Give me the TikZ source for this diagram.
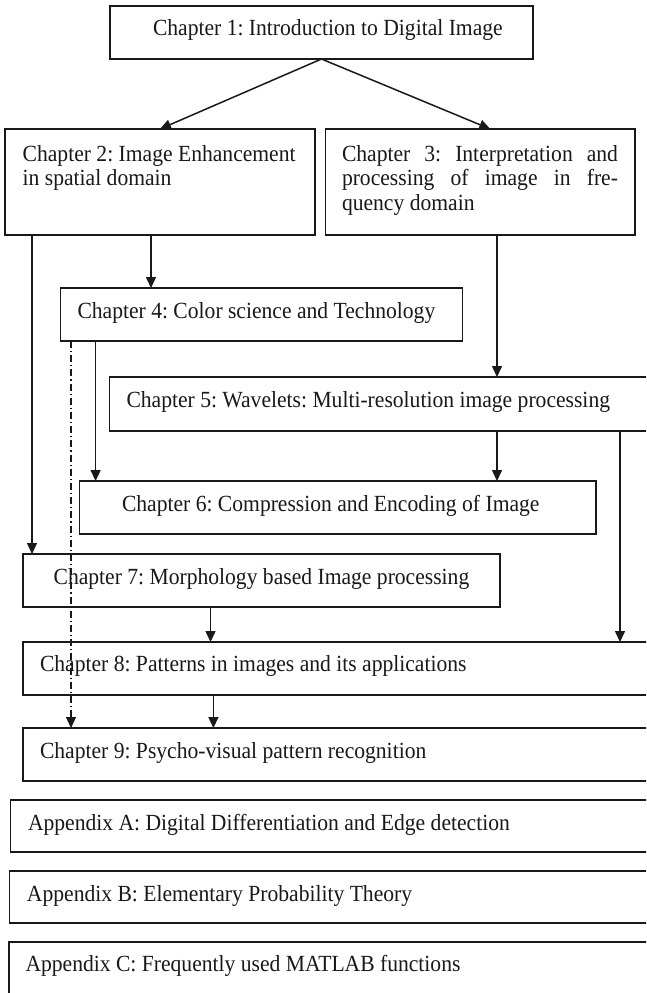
\documentclass[tikz,border=0pt]{standalone}
\usepackage{fontspec}
\usepackage{graphicx}
\setmainfont{Liberation Serif}
\usetikzlibrary{arrows.meta,calc}
\newcommand{\vstr}[1]{\scalebox{1}[1.07]{#1}}
\begin{document}
\frenchspacing
\begin{tikzpicture}[x=1pt,y=-1pt,
  boxsty/.style={draw=black!90, line width=1.1pt, inner sep=0pt, outer sep=0pt, anchor=north west, rectangle},
  txt/.style={inner sep=0pt, outer sep=0pt, anchor=base west, text=black!90, font=\fontsize{21.6}{24.5}\selectfont},
  arr/.style={draw=black!90, line width=1.5pt, -{Triangle[length=11pt,width=10pt]}},
  dd/.style={arr, line width=1.1pt, dash pattern=on 7pt off 3pt on 1.2pt off 3pt}]
\useasboundingbox (0,0) rectangle (646,993);
\clip (0,0) rectangle (646,993);
\fill[white] (0,0) rectangle (646,993);
% boxes
\node[boxsty, minimum width=423pt, minimum height=53pt] (c1) at (110,6) {};
\node[boxsty, minimum width=310pt, minimum height=106pt] (c2) at (5,129) {};
\node[boxsty, minimum width=309.5pt, minimum height=106pt] (c3) at (325.5,129) {};
\node[boxsty, minimum width=402pt, minimum height=53pt] (c4) at (60.6,288) {};
\node[boxsty, minimum width=560pt, minimum height=54pt] (c5) at (109.6,377) {};
\node[boxsty, minimum width=516.5pt, minimum height=53pt] (c6) at (79.5,481) {};
\node[boxsty, minimum width=477pt, minimum height=53pt] (c7) at (23,554) {};
\node[boxsty, minimum width=650pt, minimum height=53pt] (c8) at (23,642) {};
\node[boxsty, minimum width=650pt, minimum height=53pt] (c9) at (23,728) {};
\node[boxsty, minimum width=660pt, minimum height=52pt] (ca) at (10.3,800) {};
\node[boxsty, minimum width=660pt, minimum height=52pt] (cb) at (9.5,871) {};
\node[boxsty, minimum width=660pt, minimum height=53pt] (cc) at (9,942) {};
% texts
\node[txt] (t1) at (153,35.5) {\vstr{Chapter 1: Introduction to Digital Image}};
\node[txt] (t2a) at (22.7,161) {\vstr{Chapter 2: Image Enhancement}};
\node[txt] (t2b) at (22.7,185.5) {\vstr{in spatial domain}};
\node[txt] (t3a) at (342,161) {\vstr{\makebox[276pt][s]{Chapter 3: Interpretation and}}};
\node[txt] (t3b) at (342,185.5) {\vstr{\makebox[276pt][s]{processing of image in fre-}}};
\node[txt] (t3c) at (342,210) {\vstr{quency domain}};
\node[txt] (t4) at (77.5,318.5) {\vstr{Chapter 4: Color science and Technology}};
\node[txt] (t5) at (126.5,407.3) {\vstr{Chapter 5: Wavelets: Multi-resolution image processing}};
\node[txt] (t6) at (122,511) {\vstr{Chapter 6: Compression and Encoding of Image}};
\node[txt] (t7) at (53.6,584.3) {\vstr{Chapter 7: Morphology based Image processing}};
\node[txt] (t8) at (40,671.7) {\vstr{Chapter 8: Patterns in images and its applications}};
\node[txt] (t9) at (40,758.3) {\vstr{Chapter 9: Psycho-visual pattern recognition}};
\node[txt] (ta) at (28,830) {\vstr{Appendix A: Digital Differentiation and Edge detection}};
\node[txt] (tb) at (27,901.7) {\vstr{Appendix B: Elementary Probability Theory}};
\node[txt] (tc) at (25.5,971.7) {\vstr{Appendix C: Frequently used MATLAB functions}};
% connectors
\draw[arr] (c1.south) -- (c2.north);
\draw[arr] (c1.south) -- ([xshift=10pt]c3.north);
\draw[arr] ([xshift=27pt]c2.south west) -- ([xshift=9pt]c7.north west);
\draw[arr] ([xshift=146pt]c2.south west) -- ([xshift=90.4pt]c4.north west);
\draw[arr] ([xshift=171.5pt]c3.south west) -- ([xshift=387.4pt]c5.north west);
\draw[arr] ([xshift=35pt]c4.south west) -- ([xshift=16.1pt]c6.north west);
\draw[dd] ([xshift=10.4pt]c4.south west) -- ([xshift=48pt]c9.north west);
\draw[arr] ([xshift=387.4pt]c5.south west) -- ([xshift=417.5pt]c6.north west);
\draw[arr] ([xshift=510.4pt]c5.south west) -- ([xshift=597pt]c8.north west);
\draw[arr] ([xshift=187.5pt]c7.south west) -- ([xshift=187.5pt]c8.north west);
\draw[arr] ([xshift=190.4pt]c8.south west) -- ([xshift=190.4pt]c9.north west);
\end{tikzpicture}
\end{document}
